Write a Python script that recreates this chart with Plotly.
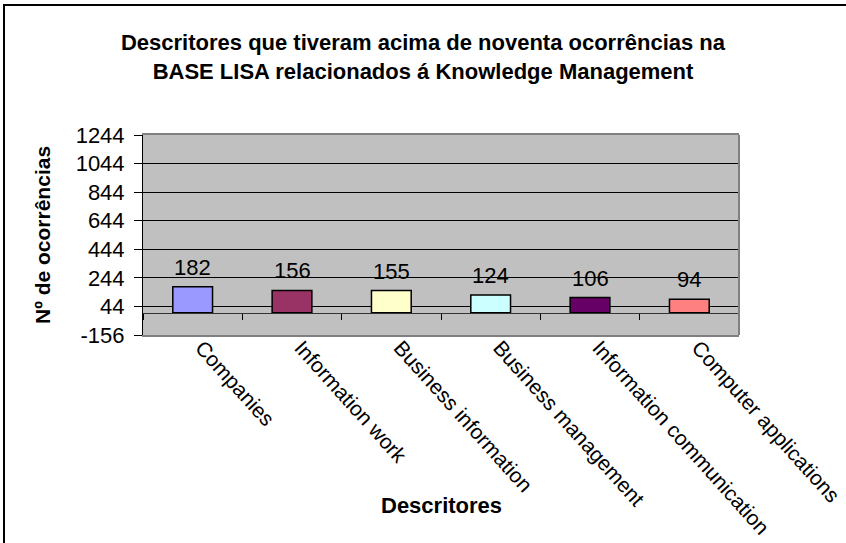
import plotly.graph_objects as go

# dados
descritores = ["Companies", "Information work", "Business information",
               "Business management", "Information communication",
               "Computer applications"]
ocorrencias = [182, 156, 155, 124, 106, 94]
cores = ["#9999FF", "#993366", "#FFFFCC", "#CCFFFF", "#660066", "#FF8080"]
ytick_vals = [-156, 44, 244, 444, 644, 844, 1044, 1244]
ytick_text = [str(v) for v in ytick_vals]

W, H = 846, 543
L, R, T, B = 143, 107, 135, 208
pw, ph = W - L - R, H - T - B
fonte = "Liberation Sans, Arial, sans-serif"


def px_x(p):
    return (p - L) / pw


def px_y(p):
    return (H - B - p) / ph


fig = go.Figure()
fig.add_trace(go.Bar(x=descritores, y=ocorrencias,
                     marker=dict(color=cores, line=dict(color="black", width=1.5)),
                     showlegend=False, hoverinfo="x+y"))

# eixo das categorias na altura do zero, com marcas nos limites
fig.add_trace(go.Scatter(x=descritores, y=ocorrencias, xaxis="x2", mode="none",
                         showlegend=False, hoverinfo="skip"))

for d, v in zip(descritores, ocorrencias):
    fig.add_annotation(x=d, y=v, text=str(v), showarrow=False, yanchor="bottom",
                       yshift=5, font=dict(family=fonte, size=22, color="black"))

fig.add_annotation(text="<b>Nº de ocorrências</b>", textangle=-90, showarrow=False,
                   xref="paper", yref="paper", x=px_x(42), y=0.5,
                   xanchor="center", yanchor="middle",
                   font=dict(family=fonte, size=21, color="black"))
fig.add_annotation(text="<b>Descritores</b>", showarrow=False,
                   xref="paper", yref="paper", x=0.5, y=px_y(505),
                   xanchor="center", yanchor="middle",
                   font=dict(family=fonte, size=22, color="black"))

# bordas
fig.add_shape(type="line", xref="x domain", yref="y domain", x0=1, x1=1, y0=0, y1=1,
              line=dict(color="#808080", width=2), layer="above")
fig.add_shape(type="rect", xref="paper", yref="paper",
              x0=px_x(4), x1=px_x(W + 20), y0=px_y(5), y1=px_y(H + 20),
              line=dict(color="black", width=2), layer="above")

fig.update_layout(
    width=W, height=H,
    margin=dict(l=L, r=R, t=T, b=B, autoexpand=False),
    paper_bgcolor="white", plot_bgcolor="#C0C0C0",
    bargap=0.6,
    title=dict(text="<b>Descritores que tiveram acima de noventa ocorrências na<br>"
                    "BASE LISA relacionados á Knowledge Management</b>",
               x=0.5, xanchor="center", y=1 - 50 / H, yanchor="middle",
               font=dict(family=fonte, size=22, color="black")),
    font=dict(family=fonte, color="black"),
    xaxis=dict(type="category", showgrid=False, ticks="", tickangle=48,
               tickfont=dict(size=21), ticklabelstandoff=-10, ticklabelshift=9,
               showline=True, linecolor="#808080", automargin=False,
               linewidth=2, mirror=True, zeroline=False),
    xaxis2=dict(type="category", overlaying="x", matches="x", anchor="free",
                position=156 / 1400, showticklabels=False, ticks="outside",
                tickson="boundaries", ticklen=6, tickcolor="black",
                showline=True, linecolor="#333333", linewidth=1, showgrid=False),
    yaxis=dict(range=[-156, 1244], tickvals=ytick_vals, ticktext=ytick_text,
               showgrid=True, gridcolor="black", gridwidth=1, zeroline=False,
               ticks="outside", ticklen=8, tickcolor="black", automargin=False,
               ticklabelstandoff=5,
               showline=True, linecolor="black", linewidth=1,
               tickfont=dict(size=22)),
)

fig.write_html("out.html", config={"displayModeBar": False},
               post_script="document.body.style.margin='0';")
